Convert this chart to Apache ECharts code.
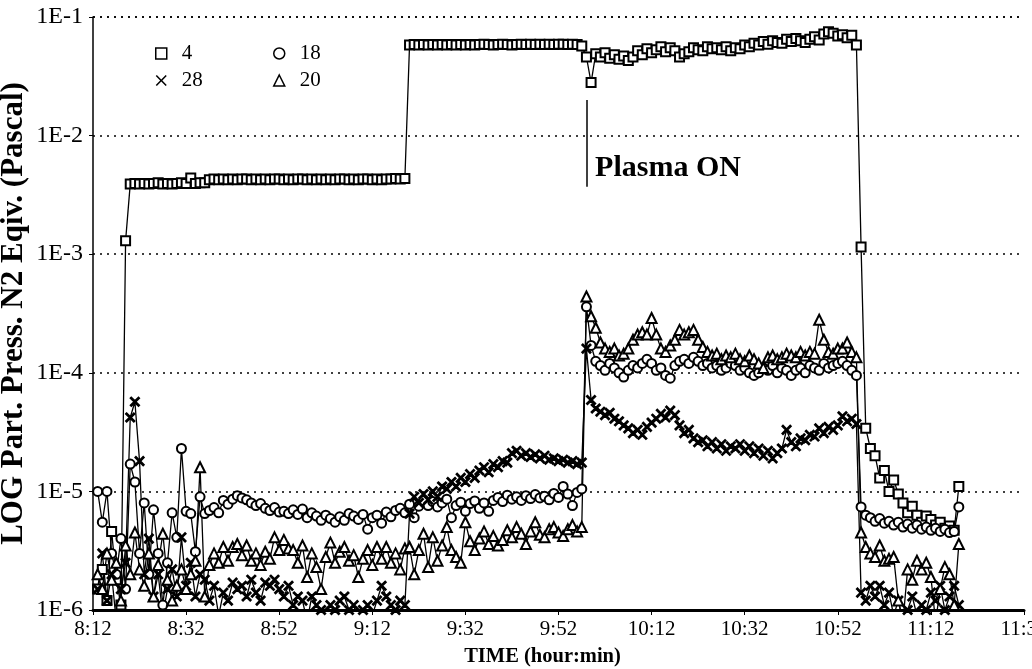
<!DOCTYPE html>
<html><head><meta charset="utf-8">
<script src="https://cdn.jsdelivr.net/npm/echarts@6/dist/echarts.min.js"></script>
<style>html,body{margin:0;padding:0;background:#fff}#c{width:1032px;height:669px}</style>
</head><body><div id="c"></div>
<script>
// x tick labels (axis value = minutes elapsed since 8:12)
const xTickLabels = ['8:12','8:32','8:52','9:12','9:32','9:52','10:12','10:32','10:52','11:12','11:32'];
const yTickLabels = ['1E-6','1E-5','1E-4','1E-3','1E-2','1E-1'];
const seriesNames = ['4','18','28','20'];

// sample times, minutes since 8:12
const minutes = [
  1,2,3,4,5,6,7,8,9,10,
  11,12,13,14,15,16,17,18,19,20,
  21,22,23,24,25,26,27,28,29,30,
  31,32,33,34,35,36,37,38,39,40,
  41,42,43,44,45,46,47,48,49,50,
  51,52,53,54,55,56,57,58,59,60,
  61,62,63,64,65,66,67,68,69,70,
  71,72,73,74,75,76,77,78,79,80,
  81,82,83,84,85,86,87,88,89,90,
  91,92,93,94,95,96,97,98,99,100,
  101,102,103,104,105,106,107,108,109,110,
  111,112,113,114,115,116,117,118,119,120,
  121,122,123,124,125,126,127,128,129,130,
  131,132,133,134,135,136,137,138,139,140,
  141,142,143,144,145,146,147,148,149,150,
  151,152,153,154,155,156,157,158,159,160,
  161,162,163,164,165,166,167,168,169,170,
  171,172,173,174,175,176,177,178,179,180,
  181,182,183,184,185,186
];

const mass4 = [
  1.5e-6,2.2e-6,1.2e-6,4.6e-6,1.8e-6,1.1e-6,1.3e-3,3.9e-3,3.95e-3,3.9e-3,
  3.95e-3,3.9e-3,3.95e-3,4.0e-3,3.9e-3,3.95e-3,3.9e-3,3.95e-3,4.0e-3,3.95e-3,
  4.4e-3,3.95e-3,4.0e-3,4.0e-3,4.25e-3,4.3e-3,4.25e-3,4.3e-3,4.25e-3,4.3e-3,
  4.25e-3,4.3e-3,4.3e-3,4.25e-3,4.3e-3,4.25e-3,4.3e-3,4.25e-3,4.3e-3,4.3e-3,
  4.25e-3,4.3e-3,4.25e-3,4.3e-3,4.3e-3,4.25e-3,4.3e-3,4.25e-3,4.3e-3,4.25e-3,
  4.3e-3,4.25e-3,4.3e-3,4.3e-3,4.25e-3,4.3e-3,4.25e-3,4.3e-3,4.3e-3,4.25e-3,
  4.3e-3,4.25e-3,4.3e-3,4.3e-3,4.35e-3,4.3e-3,4.35e-3,5.8e-2,5.85e-2,5.8e-2,
  5.85e-2,5.8e-2,5.85e-2,5.8e-2,5.85e-2,5.8e-2,5.85e-2,5.8e-2,5.85e-2,5.8e-2,
  5.85e-2,5.8e-2,5.85e-2,5.9e-2,5.85e-2,5.8e-2,5.85e-2,5.9e-2,5.85e-2,5.8e-2,
  5.85e-2,5.9e-2,5.85e-2,5.9e-2,5.85e-2,5.9e-2,5.85e-2,5.9e-2,5.85e-2,5.9e-2,
  5.9e-2,5.85e-2,5.9e-2,5.85e-2,5.7e-2,4.6e-2,2.8e-2,4.9e-2,4.6e-2,5.0e-2,
  4.5e-2,4.8e-2,4.4e-2,4.7e-2,4.3e-2,4.6e-2,5.2e-2,4.8e-2,5.4e-2,5.0e-2,
  5.3e-2,5.6e-2,5.1e-2,5.5e-2,5.2e-2,4.6e-2,4.9e-2,5.1e-2,5.5e-2,5.3e-2,
  5.2e-2,5.6e-2,5.4e-2,5.5e-2,5.3e-2,5.6e-2,5.2e-2,5.5e-2,5.4e-2,5.8e-2,
  5.6e-2,6.0e-2,5.8e-2,6.2e-2,5.9e-2,6.3e-2,6.1e-2,6.0e-2,6.5e-2,6.2e-2,
  6.6e-2,6.3e-2,6.1e-2,6.5e-2,6.8e-2,6.4e-2,7.2e-2,7.5e-2,7.3e-2,6.9e-2,
  7.1e-2,6.7e-2,7.0e-2,5.8e-2,1.15e-3,3.4e-5,2.3e-5,2.0e-5,1.3e-5,1.5e-5,
  1.0e-5,1.25e-5,9.5e-6,8.0e-6,6.6e-6,7.5e-6,6.3e-6,5.5e-6,6.2e-6,5.8e-6,
  5.2e-6,5.5e-6,4.9e-6,5.1e-6,4.7e-6,1.1e-5
];

const mass18 = [
  1.0e-5,5.5e-6,1.0e-5,3.0e-6,2.0e-6,4.0e-6,1.5e-6,1.7e-5,1.2e-5,3.0e-6,
  8.0e-6,2.0e-6,7.0e-6,3.0e-6,1.1e-6,2.5e-6,6.6e-6,4.1e-6,2.3e-5,6.8e-6,
  6.5e-6,3.1e-6,9.0e-6,6.5e-6,6.9e-6,7.3e-6,6.6e-6,8.4e-6,7.8e-6,8.6e-6,
  9.2e-6,8.8e-6,8.5e-6,8.0e-6,7.6e-6,7.9e-6,7.2e-6,6.9e-6,7.3e-6,6.7e-6,
  6.8e-6,6.5e-6,7.0e-6,6.4e-6,7.1e-6,6.0e-6,6.6e-6,6.2e-6,5.7e-6,6.3e-6,
  5.9e-6,5.5e-6,6.1e-6,5.7e-6,6.5e-6,6.2e-6,5.8e-6,6.4e-6,4.8e-6,6.0e-6,
  6.3e-6,5.4e-6,6.7e-6,6.1e-6,6.9e-6,7.2e-6,6.6e-6,7.8e-6,6.0e-6,7.5e-6,
  8.4e-6,7.6e-6,8.2e-6,7.4e-6,8.0e-6,8.6e-6,6.0e-6,7.6e-6,8.1e-6,6.8e-6,
  7.9e-6,8.3e-6,7.2e-6,8.0e-6,6.8e-6,8.4e-6,8.9e-6,8.2e-6,9.3e-6,8.6e-6,
  9.0e-6,8.4e-6,9.2e-6,8.7e-6,9.4e-6,8.8e-6,9.1e-6,8.5e-6,9.6e-6,8.9e-6,
  1.1e-5,9.5e-6,7.6e-6,9.8e-6,1.05e-5,3.6e-4,1.7e-4,1.25e-4,1.15e-4,1.05e-4,
  1.2e-4,1.1e-4,1.0e-4,9.2e-5,1.05e-4,1.15e-4,1.1e-4,1.2e-4,1.3e-4,1.2e-4,
  1.05e-4,1.1e-4,9.5e-5,9.0e-5,1.15e-4,1.25e-4,1.3e-4,1.2e-4,1.35e-4,1.25e-4,
  1.15e-4,1.2e-4,1.1e-4,1.15e-4,1.05e-4,1.1e-4,1.2e-4,1.15e-4,1.05e-4,1.1e-4,
  1.0e-4,9.5e-5,1.0e-4,1.1e-4,1.05e-4,1.15e-4,1.0e-4,1.1e-4,1.05e-4,9.5e-5,
  1.05e-4,1.1e-4,1.0e-4,1.15e-4,1.1e-4,1.05e-4,1.2e-4,1.1e-4,1.15e-4,1.2e-4,
  1.25e-4,1.15e-4,1.05e-4,9.5e-5,7.4e-6,6.3e-6,6.0e-6,5.6e-6,5.9e-6,5.4e-6,
  5.6e-6,5.2e-6,5.5e-6,5.0e-6,5.3e-6,4.9e-6,5.2e-6,4.8e-6,5.0e-6,4.7e-6,
  4.9e-6,4.6e-6,4.8e-6,4.5e-6,4.6e-6,7.4e-6
];

const mass28 = [
  1.5e-6,3.0e-6,1.2e-6,2.0e-6,8.0e-7,1.5e-6,2.5e-6,4.2e-5,5.7e-5,1.8e-5,
  2.0e-6,4.0e-6,1.3e-6,2.0e-6,9.0e-7,1.5e-6,2.2e-6,1.3e-6,4.1e-6,1.6e-6,
  2.5e-6,1.3e-6,2.0e-6,1.8e-6,1.2e-6,1.6e-6,9.0e-7,1.4e-6,1.2e-6,1.7e-6,
  1.5e-6,1.6e-6,1.3e-6,1.8e-6,1.4e-6,1.2e-6,1.7e-6,1.6e-6,1.8e-6,1.5e-6,
  1.3e-6,1.6e-6,1.1e-6,1.3e-6,1.2e-6,8.0e-7,1.3e-6,1.1e-6,1.0e-6,9.0e-7,
  1.1e-6,1.0e-6,1.2e-6,1.3e-6,1.0e-6,1.1e-6,8.0e-7,1.0e-6,1.1e-6,9.0e-7,
  1.2e-6,1.6e-6,1.3e-6,1.1e-6,1.0e-6,1.2e-6,1.1e-6,6.5e-6,9.0e-6,8.0e-6,
  9.5e-6,8.5e-6,1.0e-5,9.0e-6,1.1e-5,1.05e-5,1.2e-5,1.1e-5,1.3e-5,1.2e-5,
  1.4e-5,1.3e-5,1.5e-5,1.6e-5,1.45e-5,1.7e-5,1.6e-5,1.8e-5,1.75e-5,2.1e-5,
  2.2e-5,2.0e-5,2.1e-5,1.95e-5,2.05e-5,1.9e-5,2.0e-5,1.85e-5,1.9e-5,1.8e-5,
  1.85e-5,1.75e-5,1.8e-5,1.7e-5,1.75e-5,1.6e-4,5.9e-5,5.0e-5,4.7e-5,4.4e-5,
  4.6e-5,4.1e-5,3.9e-5,3.6e-5,3.4e-5,3.1e-5,3.3e-5,3.0e-5,3.5e-5,3.8e-5,
  4.1e-5,4.5e-5,4.2e-5,4.8e-5,4.4e-5,3.6e-5,3.1e-5,3.3e-5,2.8e-5,2.6e-5,
  2.7e-5,2.4e-5,2.6e-5,2.3e-5,2.5e-5,2.2e-5,2.4e-5,2.3e-5,2.5e-5,2.2e-5,
  2.4e-5,2.1e-5,2.3e-5,2.0e-5,2.2e-5,1.9e-5,2.1e-5,2.3e-5,3.3e-5,2.6e-5,
  2.4e-5,2.8e-5,2.7e-5,3.0e-5,2.9e-5,3.4e-5,3.1e-5,3.5e-5,3.3e-5,3.6e-5,
  4.3e-5,3.9e-5,4.1e-5,3.7e-5,1.4e-6,1.2e-6,1.6e-6,1.3e-6,1.6e-6,1.1e-6,
  1.4e-6,9.0e-7,1.2e-6,8.0e-7,1.0e-6,1.3e-6,9.0e-7,1.1e-6,1.0e-6,1.4e-6,
  1.2e-6,1.6e-6,1.0e-6,1.3e-6,1.6e-6,1.1e-6
];

const mass20 = [
  2.0e-6,1.5e-6,3.0e-6,1.8e-6,2.5e-6,1.2e-6,3.5e-6,2.0e-6,4.5e-6,2.2e-6,
  1.6e-6,3.0e-6,1.3e-6,2.4e-6,4.4e-6,1.8e-6,1.2e-6,1.6e-6,2.2e-6,1.5e-6,
  2.0e-6,2.6e-6,1.6e-5,1.3e-6,2.4e-6,3.0e-6,2.5e-6,3.4e-6,2.6e-6,3.4e-6,
  3.6e-6,2.9e-6,3.5e-6,2.6e-6,3.0e-6,2.4e-6,3.1e-6,2.7e-6,4.1e-6,3.2e-6,
  3.9e-6,3.3e-6,3.2e-6,2.5e-6,3.5e-6,1.9e-6,3.0e-6,2.3e-6,1.5e-6,2.8e-6,
  3.7e-6,2.5e-6,3.1e-6,3.4e-6,2.6e-6,2.9e-6,1.9e-6,2.7e-6,3.2e-6,2.4e-6,
  3.4e-6,2.7e-6,3.4e-6,2.5e-6,3.0e-6,2.2e-6,3.3e-6,3.4e-6,2.0e-6,3.2e-6,
  4.4e-6,2.3e-6,4.1e-6,2.6e-6,3.5e-6,5.0e-6,3.2e-6,2.8e-6,2.5e-6,5.5e-6,
  3.8e-6,3.2e-6,4.0e-6,4.6e-6,3.6e-6,4.2e-6,3.5e-6,3.9e-6,4.7e-6,4.1e-6,
  5.0e-6,4.4e-6,3.6e-6,4.6e-6,5.5e-6,4.3e-6,4.1e-6,4.8e-6,5.0e-6,4.5e-6,
  4.2e-6,4.8e-6,5.2e-6,4.6e-6,5.0e-6,4.4e-4,3.0e-4,2.4e-4,1.8e-4,1.6e-4,
  1.5e-4,1.6e-4,1.4e-4,1.45e-4,1.6e-4,1.9e-4,2.1e-4,2.2e-4,2.1e-4,2.9e-4,
  2.1e-4,1.6e-4,1.5e-4,1.7e-4,1.9e-4,2.3e-4,2.1e-4,2.2e-4,2.3e-4,1.9e-4,
  1.65e-4,1.5e-4,1.4e-4,1.45e-4,1.3e-4,1.4e-4,1.35e-4,1.45e-4,1.3e-4,1.25e-4,
  1.4e-4,1.3e-4,1.2e-4,1.1e-4,1.35e-4,1.4e-4,1.3e-4,1.35e-4,1.45e-4,1.4e-4,
  1.35e-4,1.5e-4,1.4e-4,1.5e-4,1.45e-4,2.8e-4,1.9e-4,1.5e-4,1.45e-4,1.6e-4,
  1.6e-4,1.8e-4,1.5e-4,1.35e-4,4.5e-6,3.4e-6,3.0e-6,2.8e-6,3.5e-6,2.6e-6,
  2.7e-6,2.8e-6,1.2e-6,8.0e-7,2.2e-6,1.8e-6,2.6e-6,2.2e-6,2.5e-6,1.9e-6,
  8.0e-7,1.5e-6,2.3e-6,2.0e-6,1.1e-6,3.6e-6
];

// annotation "Plasma ON"
const plasmaText = 'Plasma ON';
const plasmaMinute = 106;          // ~9:58
const plasmaLineTop = 2.0e-2;
const plasmaLineBottom = 3.7e-3;
const plasmaLabelValue = 5.3e-3;

const FONT = "'Liberation Serif','Times New Roman',serif";
const xMark = 'path://M0,1L1,0L5,4L9,0L10,1L6,5L10,9L9,10L5,6L1,10L0,9L4,5Z';
const symbols = {'4': 'emptyRect', '18': 'emptyCircle', '28': xMark, '20': 'emptyTriangle'};
const valueSets = {'4': mass4, '18': mass18, '28': mass28, '20': mass20};

function pairs(vals) { return minutes.map((m, i) => [m, vals[i]]); }

const series = seriesNames.map(name => ({
  name: name,
  type: 'line',
  data: pairs(valueSets[name]),
  symbol: symbols[name],
  symbolSize: name === '20' ? 10 : 9,
  showAllSymbol: true,
  clip: true,
  itemStyle: { color: '#000', borderColor: '#000', borderWidth: 1.5 },
  lineStyle: { color: '#000', width: 1.3 },
  emphasis: { disabled: true },
  animation: false
}));

series[0].markLine = {
  silent: true, symbol: 'none', animation: false,
  label: { show: false },
  lineStyle: { color: '#000', width: 1.5, type: 'solid' },
  data: [[{ coord: [plasmaMinute, plasmaLineTop] }, { coord: [plasmaMinute, plasmaLineBottom] }]]
};
series[0].markPoint = {
  silent: true, symbol: 'circle', symbolSize: 0, animation: false,
  data: [{ coord: [plasmaMinute + 1, plasmaLabelValue] }],
  label: { show: true, position: 'right', distance: 4, formatter: plasmaText,
    fontFamily: FONT, fontWeight: 'bold', fontSize: 30, color: '#000' }
};

function legendItem(name) {
  const ic = symbols[name];
  if (name === '28') return { name: name, icon: ic, itemStyle: { color: '#000', borderWidth: 0 } };
  return { name: name, icon: ic.replace('empty', '').toLowerCase(), itemStyle: { color: '#fff', borderColor: '#000', borderWidth: 1.5 } };
}
const legendText = { fontFamily: FONT, fontSize: 21, color: '#000', padding: [0, 0, 0, 10] };

const chart = echarts.init(document.getElementById('c'), null, { renderer: 'canvas' });
chart.setOption({
  animation: false,
  backgroundColor: '#fff',
  grid: { left: 93, right: 8, top: 17, bottom: 59, outerBoundsMode: 'none', containLabel: false },
  legend: [
    { data: ['4', '28'].map(legendItem), orient: 'vertical', left: 150, top: 38, itemWidth: 11, itemHeight: 11, itemGap: 6, textStyle: legendText, selectedMode: false },
    { data: ['18', '20'].map(legendItem), orient: 'vertical', left: 268, top: 38, itemWidth: 11, itemHeight: 11, itemGap: 6, textStyle: legendText, selectedMode: false }
  ],
  xAxis: {
    type: 'value', min: 0, max: 200, interval: 20,
    name: 'TIME (hour:min)', nameLocation: 'middle', nameGap: 36,
    nameTextStyle: { fontFamily: FONT, fontWeight: 'bold', fontSize: 20.5, color: '#000', padding: [0, 32, 0, 0] },
    axisLine: { lineStyle: { color: '#000', width: 3 } },
    axisTick: { show: true, length: 5, lineStyle: { color: '#000', width: 1 } },
    axisLabel: { color: '#000', fontFamily: FONT, fontSize: 21, margin: 9,
      formatter: v => xTickLabels[Math.round(v / 20)] },
    splitLine: { show: false }
  },
  yAxis: {
    type: 'log', logBase: 10, min: 1e-6, max: 1e-1,
    name: 'LOG Part. Press. N2 Eqiv. (Pascal)', nameLocation: 'middle', nameGap: 64,
    nameMoveOverlap: false,
    nameTextStyle: { fontFamily: FONT, fontWeight: 'bold', fontSize: 31, color: '#000' },
    axisLine: { show: true, lineStyle: { color: '#000', width: 1.5 } },
    axisTick: { show: true, length: 4, lineStyle: { color: '#000' } },
    axisLabel: { color: '#000', fontFamily: FONT, fontSize: 24, margin: 10,
      formatter: v => yTickLabels[Math.round(Math.log10(v)) + 6] },
    splitLine: { show: true, lineStyle: { color: '#000', width: 1.5, type: [2, 5] } }
  },
  series: series
});
</script></body></html>
